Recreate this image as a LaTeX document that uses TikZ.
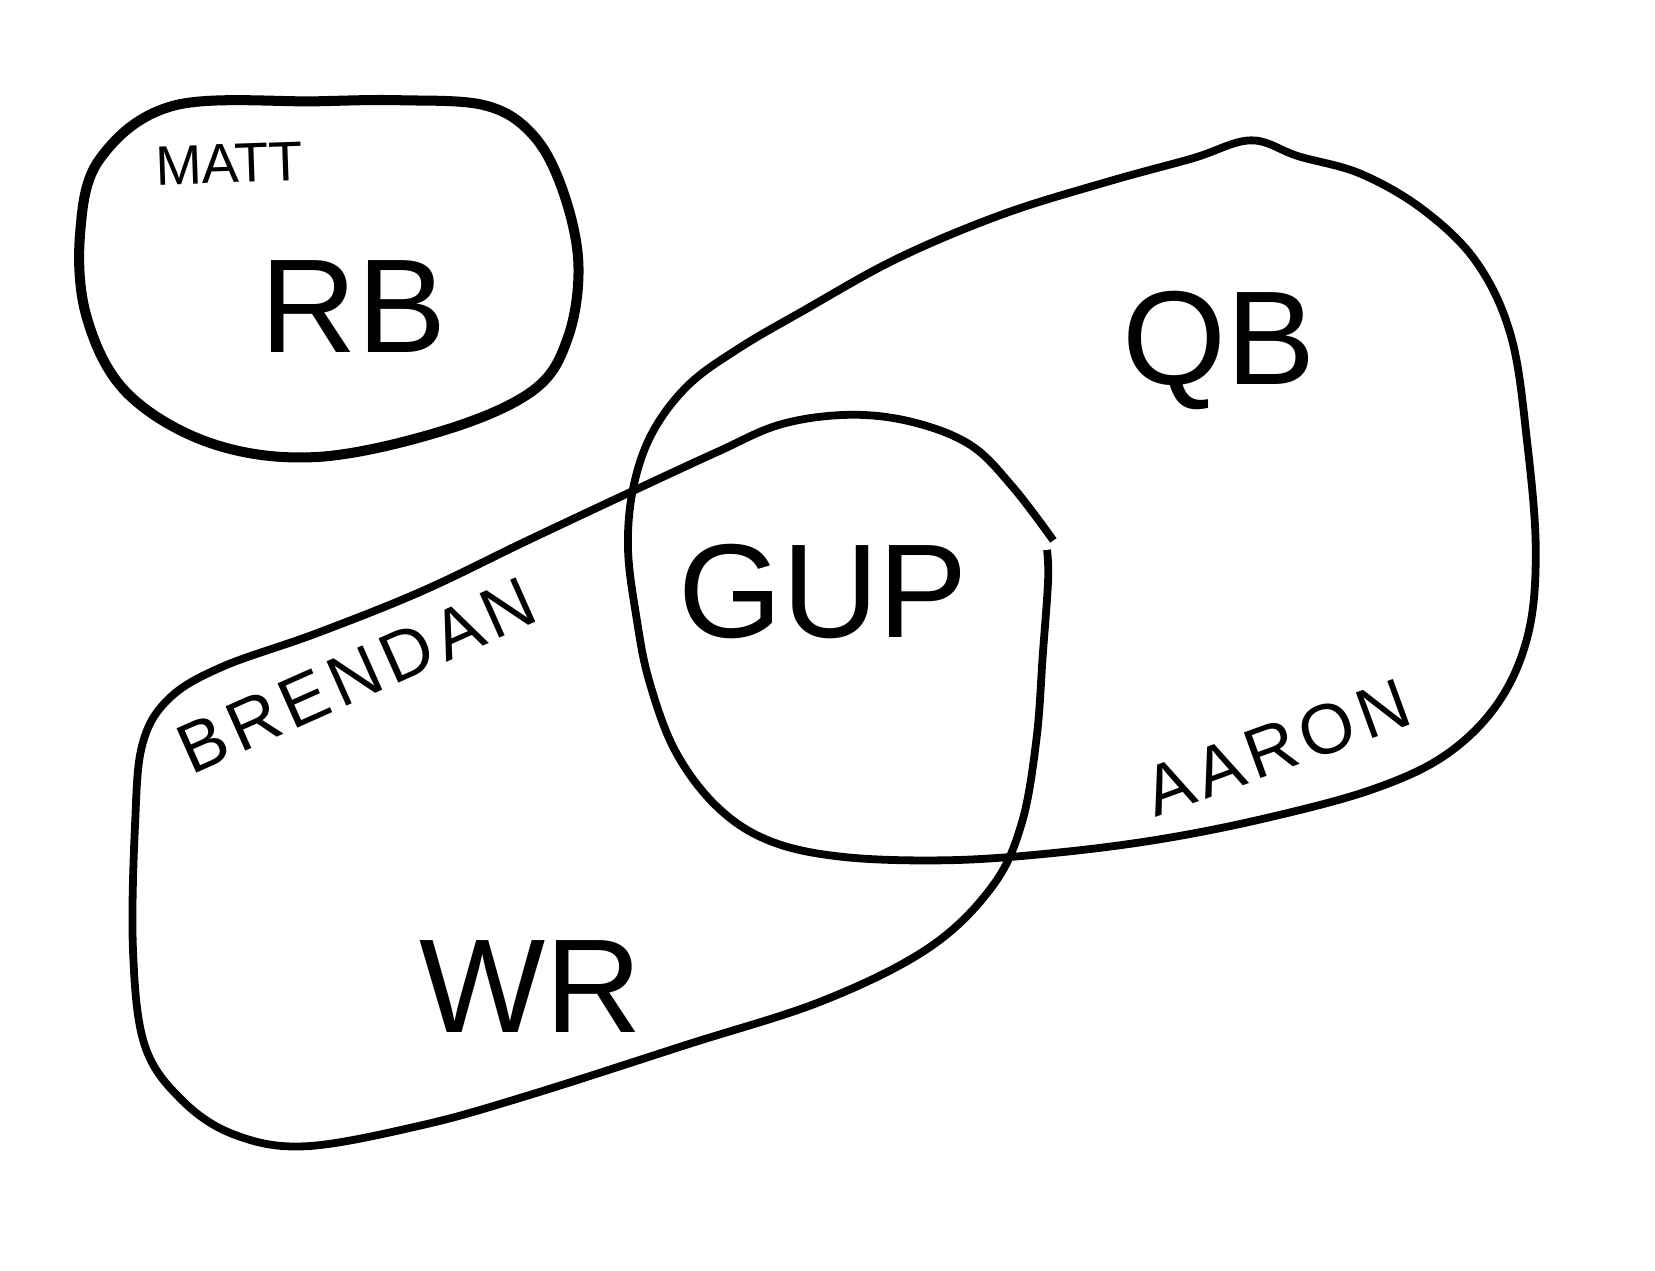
\documentclass[tikz,border=0pt]{standalone}
\usepackage{fontspec}
\setmainfont{Liberation Sans}
\newfontfamily\handfont[LetterSpace=9]{Liberation Sans}
\newcommand{\inka}{black}
\tikzset{every path/.style={line width=2.1pt},
  bigname/.style={font=\fontsize{36}{36}\selectfont},
  smallname/.style={font=\handfont\fontsize{19}{19}\selectfont}}

\begin{document}
\begin{tikzpicture}[x=0.01cm,y=-0.01cm]
\useasboundingbox (0,0) rectangle (1568,1204);
% RB
\draw[\inka, line width=2.7pt] plot[smooth cycle, tension=0.6] coordinates {(165,100) (300,96) (380,95) (460,100) (505,128) (533,180) (548,250) (538,320) (505,370) (420,408) (300,433) (200,420) (120,372) (82,300) (76,220) (95,150)};
% QB
\draw[\inka] plot[smooth cycle, tension=0.6] coordinates {(1185,133) (1230,148) (1290,165) (1350,200) (1400,250) (1432,320) (1447,420) (1455,520) (1448,600) (1420,665) (1370,715) (1300,748) (1200,775) (1100,795) (1000,808) (900,815) (800,812) (730,797) (680,765) (640,712) (615,645) (603,585) (595,520) (600,462) (618,410) (652,365) (700,330) (760,295) (850,245) (950,203) (1050,172) (1130,150)};
% WR
\draw[\inka] plot[smooth, tension=0.6] coordinates {(998,512) (960,462) (920,422) (865,400) (805,393) (740,402) (680,428) (600,465) (500,512) (400,560) (300,600) (210,632) (160,662) (135,705) (128,780) (126,900) (137,990) (172,1042) (222,1075) (290,1086) (400,1066) (500,1038) (650,990) (780,948) (880,898) (940,840) (968,780) (982,700) (988,620) (993,550) (992,521)};
\node[bigname] (rb) at (335,290) {RB};
\node[font=\fontsize{15}{15}\selectfont, rotate=2] (matt) at (217,155) {MATT};
\node[bigname] (qb) at (1155,332) {QB};
\node[bigname] (gup) at (780,560) {GUP};
\node[bigname] (wr) at (503,935) {WR};
\node[smallname, rotate=24] (brendan) at (338,640) {BRENDAN};
\node[smallname, rotate=20] (aaron) at (1210,708) {AARON};
\end{tikzpicture}
\end{document}
